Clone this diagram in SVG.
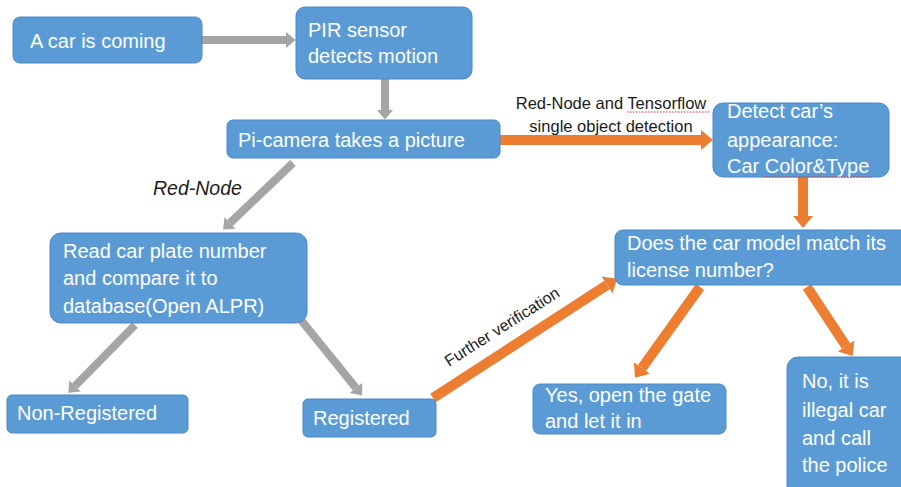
<svg xmlns="http://www.w3.org/2000/svg" width="901" height="487" viewBox="0 0 901 487">
<defs>
<style>
.box{fill:#5B9BD5;stroke:#4A88C6;stroke-width:1}
.t{font-family:"Liberation Sans",Arial,sans-serif;font-size:20px;fill:#ffffff}
.lbl{font-family:"Liberation Sans",Arial,sans-serif;font-size:16.5px;fill:#1a1a1a}
.g{stroke:#A5A5A5;stroke-width:8;fill:none;marker-end:url(#hg)}
.o{stroke:#ED7D31;stroke-width:10;fill:none;marker-end:url(#ho)}
.sq{stroke:#e03030;stroke-width:1;stroke-dasharray:1.5 1.5;fill:none}
</style>
<marker id="hg" viewBox="0 0 6 10" refX="0" refY="5" markerWidth="1.25" markerHeight="2" orient="auto"><path d="M0,0 L6,5 L0,10 Z" fill="#A5A5A5"/></marker>
<marker id="ho" viewBox="0 0 6 10" refX="0" refY="5" markerWidth="1.2" markerHeight="2" orient="auto"><path d="M0,0 L6,5 L0,10 Z" fill="#ED7D31"/></marker>
</defs>
<rect width="901" height="487" fill="#ffffff"/>
<g id="connectors">
<path class="g" d="M202,40 L286,40"/>
<path class="g" d="M385,79 L385,110"/>
<path class="g" d="M293,163 L230,223"/>
<path class="g" d="M135,325 L75,386"/>
<path class="g" d="M301,320 L356,388"/>
<path class="o" d="M500,140 L701,140"/>
<path class="o" d="M803,177 L803,216"/>
<path class="o" d="M433,398 L607,285"/>
<path class="o" d="M700,287 L642,368"/>
<path class="o" d="M807,287 L846,346"/>
<text class="lbl" x="611" y="109" text-anchor="middle">Red-Node and Tensorflow</text>
<text class="lbl" x="611" y="132" text-anchor="middle">single object detection</text>
<path class="sq" d="M627,112 L710,112"/>
<text class="lbl" x="153" y="195" style="font-style:italic;font-size:19.5px">Red-Node</text>
<text class="lbl" x="0" y="0" style="font-size:16px" transform="translate(449,367) rotate(-32.5)">Further verification</text>
</g>
<g id="n1"><rect class="box" x="13" y="17" width="189" height="46" rx="7"/><text class="t" x="30" y="48">A car is coming</text></g>
<g id="n2"><rect class="box" x="296" y="7" width="176" height="72" rx="9"/><text class="t" x="308" y="37">PIR sensor</text><text class="t" x="308" y="63">detects motion</text></g>
<g id="n3"><rect class="box" x="227" y="120" width="273" height="38" rx="6"/><text class="t" x="238" y="147">Pi-camera takes a picture</text></g>
<g id="n4"><rect class="box" x="50" y="233" width="257" height="90" rx="11"/><text class="t" x="63" y="258">Read car plate number</text><text class="t" x="63" y="285">and compare it to</text><text class="t" x="63" y="313">database(Open ALPR)</text></g>
<g id="n5"><rect class="box" x="7" y="395" width="181" height="38" rx="5"/><text class="t" x="17" y="420">Non-Registered</text></g>
<g id="n6"><rect class="box" x="303" y="399" width="133" height="38" rx="5"/><text class="t" x="313" y="425">Registered</text></g>
<g id="n7"><rect class="box" x="713" y="103" width="176" height="74" rx="10"/><text class="t" x="727" y="118">Detect car’s</text><text class="t" x="727" y="147">appearance:</text><text class="t" x="727" y="173">Car Color&amp;Type</text><path class="sq" d="M763,177 L872,177"/></g>
<g id="n8"><rect class="box" x="615" y="230" width="300" height="55" rx="8"/><text class="t" x="627" y="250">Does the car model match its</text><text class="t" x="627" y="277">license number?</text></g>
<g id="n9"><rect class="box" x="533" y="384" width="193" height="50" rx="7"/><text class="t" x="545" y="402">Yes, open the gate</text><text class="t" x="545" y="428">and let it in</text></g>
<g id="n10"><rect class="box" x="787" y="357" width="130" height="145" rx="11"/><text class="t" x="802" y="388">No, it is</text><text class="t" x="802" y="417">illegal car</text><text class="t" x="802" y="445">and call</text><text class="t" x="802" y="472">the police</text></g>
</svg>
